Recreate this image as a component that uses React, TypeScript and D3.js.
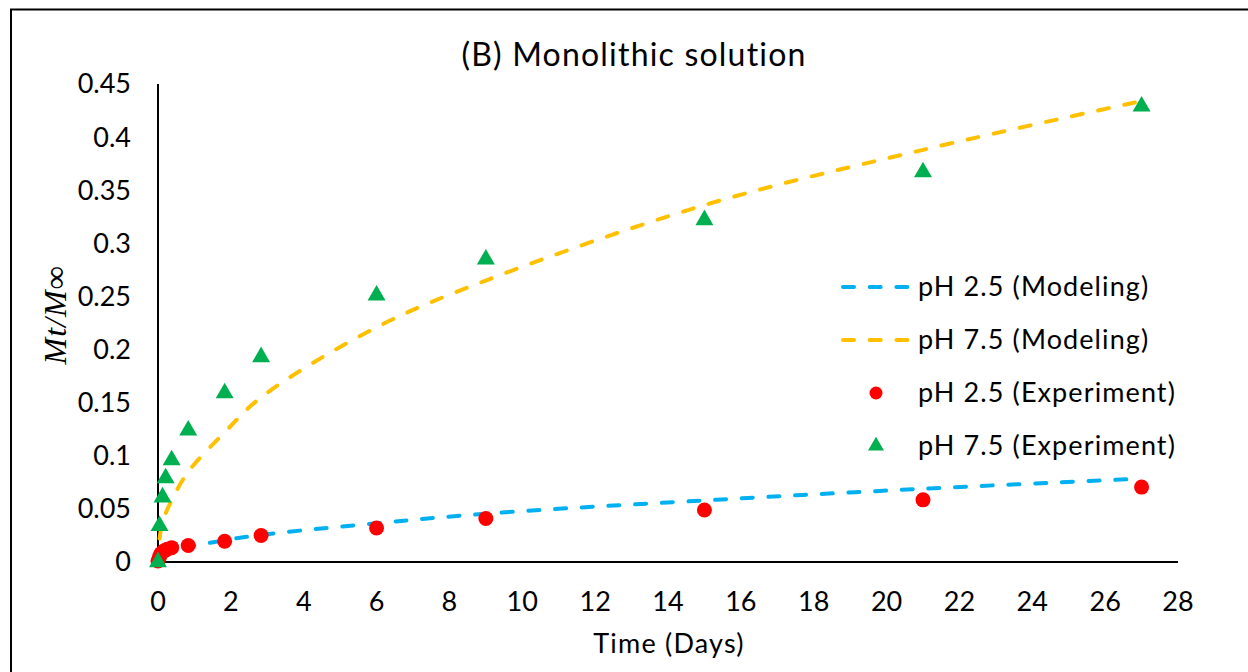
import React from "react";
import * as d3 from "d3";

const title = "(B) Monolithic solution";
const xLabel = "Time (Days)";
const xTicks = [0, 2, 4, 6, 8, 10, 12, 14, 16, 18, 20, 22, 24, 26, 28];
const yTicks = [0, 0.05, 0.1, 0.15, 0.2, 0.25, 0.3, 0.35, 0.4, 0.45];

const modelTime = [0.042, 0.083, 0.167, 0.375, 0.83, 1.83, 2.83, 6, 9, 15, 21, 27];
const modelPH25 = [0.003, 0.0045, 0.0062, 0.0095, 0.014, 0.0205, 0.0255, 0.0365, 0.0455, 0.058, 0.069, 0.0785];
const modelPH75 = [0.022, 0.031, 0.042, 0.058, 0.085, 0.122, 0.155, 0.221, 0.265, 0.336, 0.388, 0.434];

const expTimeRed = [0, 0.042, 0.083, 0.167, 0.25, 0.375, 0.83, 1.83, 2.83, 6, 9, 15, 21, 27];
const expPH25 = [0.001, 0.005, 0.008, 0.0105, 0.012, 0.0135, 0.0155, 0.0195, 0.025, 0.032, 0.041, 0.049, 0.0585, 0.0705];
const expTimeGreen = [0, 0.042, 0.125, 0.21, 0.375, 0.83, 1.83, 2.83, 6, 9, 15, 21, 27];
const expPH75 = [0, 0.034, 0.061, 0.079, 0.096, 0.124, 0.159, 0.193, 0.251, 0.285, 0.322, 0.367, 0.429];

const legendItems = [
  { label: "pH 2.5 (Modeling)", kind: "line", color: "#00B0F0" },
  { label: "pH 7.5 (Modeling)", kind: "line", color: "#FFC000" },
  { label: "pH 2.5 (Experiment)", kind: "circle", color: "#FF0000" },
  { label: "pH 7.5 (Experiment)", kind: "triangle", color: "#00B050" },
];

const FONT = "Lato, 'Open Sans', sans-serif";

export default function App() {
  const x = d3.scaleLinear().domain([0, 28]).range([158, 1178]);
  const y = d3.scaleLinear().domain([0, 0.45]).range([562, 84]);

  const line = d3
    .line<[number, number]>()
    .x((d) => x(d[0]))
    .y((d) => y(d[1]))
    .curve(d3.curveCatmullRom.alpha(0.5));

  const bluePath = line(modelTime.map((t, i) => [t, modelPH25[i]]) as [number, number][]) || "";
  const orangePath = line(modelTime.map((t, i) => [t, modelPH75[i]]) as [number, number][]) || "";

  const tri = d3.symbol().type(d3.symbolTriangle).size(140)() || "";
  const triLegend = d3.symbol().type(d3.symbolTriangle).size(110)() || "";

  const dash = "11 15.7";

  return (
    <svg
      width={1248}
      height={672}
      style={{ position: "absolute", left: 0, top: 0, background: "#fff" }}
      fontFamily={FONT}
    >
      <rect x={0} y={0} width={1248} height={672} fill="#fff" />
      <rect x={11} y={9.5} width={1260} height={700} fill="none" stroke="#000" strokeWidth={2} />

      <text x={634} y={66} textAnchor="middle" fontSize={32} letterSpacing={1.2} fill="#000">
        {title}
      </text>

      {/* axes */}
      <line x1={x(0)} x2={x(0)} y1={y(0.45)} y2={y(0)} stroke="#000" strokeWidth={2} />
      <line x1={x(0)} x2={x(28)} y1={y(0)} y2={y(0)} stroke="#000" strokeWidth={2} />

      {yTicks.map((t) => (
        <text key={"y" + t} x={131} y={y(t)} dy="0.35em" textAnchor="end" fontSize={27} fill="#000">
          {d3.format("~g")(t)}
        </text>
      ))}
      {xTicks.map((t) => (
        <text key={"x" + t} x={x(t)} y={602} dy="0.35em" textAnchor="middle" fontSize={27} fill="#000">
          {t}
        </text>
      ))}

      <text x={669} y={653} textAnchor="middle" fontSize={27} letterSpacing={1.2} fill="#000">
        {xLabel}
      </text>
      <text
        transform="translate(66,315) rotate(-90)"
        textAnchor="middle"
        fontSize={32}
        fontStyle="italic"
        fontFamily="'Liberation Serif', 'DejaVu Serif', serif"
        letterSpacing={1}
        fill="#000"
      >
        Mt/M∞
      </text>

      {/* model lines */}
      <path d={bluePath} fill="none" stroke="#00B0F0" strokeWidth={4} strokeDasharray={dash} strokeLinecap="round" />
      <path d={orangePath} fill="none" stroke="#FFC000" strokeWidth={4} strokeDasharray={dash} strokeLinecap="round" />

      {/* experiments */}
      {expTimeRed.map((t, i) => (
        <circle key={"r" + i} cx={x(t)} cy={y(expPH25[i])} r={7.5} fill="#FF0000" />
      ))}
      {expTimeGreen.map((t, i) => (
        <path key={"g" + i} d={tri} transform={`translate(${x(t)},${y(expPH75[i])})`} fill="#00B050" />
      ))}

      {/* legend */}
      {legendItems.map((it, i) => {
        const cy = 287 + i * 53;
        return (
          <g key={it.label}>
            {it.kind === "line" && (
              <line x1={843} x2={909} y1={cy} y2={cy} stroke={it.color} strokeWidth={4} strokeDasharray={dash} strokeLinecap="round" />
            )}
            {it.kind === "circle" && <circle cx={876} cy={cy} r={6.5} fill={it.color} />}
            {it.kind === "triangle" && <path d={triLegend} transform={`translate(876,${cy})`} fill={it.color} />}
            <text x={918} y={cy} dy="0.35em" fontSize={27} letterSpacing={1.1} fill="#000">
              {it.label}
            </text>
          </g>
        );
      })}
    </svg>
  );
}
